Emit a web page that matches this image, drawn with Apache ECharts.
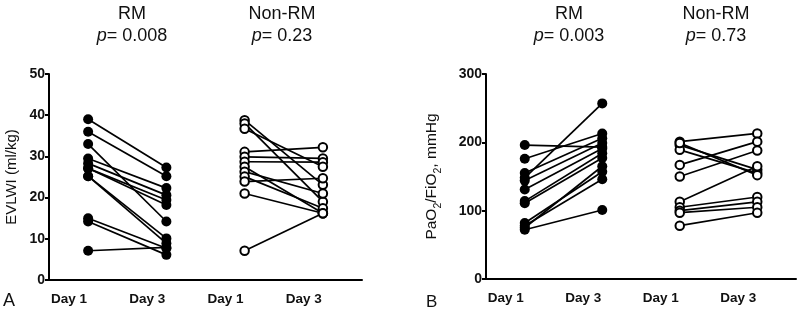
<!DOCTYPE html>
<html>
<head>
<meta charset="utf-8">
<script src="https://cdn.jsdelivr.net/npm/echarts@6/dist/echarts.min.js"></script>
<style>html,body{margin:0;padding:0;background:#fff}#c{width:800px;height:313px}</style>
</head>
<body>
<div id="c"></div>
<script>
// Categories (x-axis tick labels)
const xLabels = ['Day 1', 'Day 3', 'Day 1', 'Day 3'];
const evlwiTicks = [0, 10, 20, 30, 40, 50];
const pfTicks = [0, 100, 200, 300];

// Panel A: EVLWI (ml/kg), one entry per patient
const evlwiRmDay1 = [39, 36, 33, 29.5, 28.3, 27.1, 27.1, 25.2, 25.2, 15, 14.2, 7.1];
const evlwiRmDay3 = [27.3, 25.2, 14.2, 22.3, 20.6, 19.4, 18.2, 10.1, 8.9, 7.7, 6.1, 7.9];
const evlwiNonDay1 = [38.8, 38, 31.1, 29.9, 28.7, 27.5, 26.3, 25.1, 23.9, 21, 7.1, 36.7];
const evlwiNonDay3 = [23.1, 19, 32.2, 29.5, 28.6, 16.2, 21, 17.4, 24.7, 16.2, 16.2, 27.5];

// Panel B: PaO2/FiO2 (mmHg), one entry per patient
const pfRmDay1 = [196, 176, 155, 148, 144, 131, 114, 111, 82, 78, 72, 75];
const pfRmDay3 = [193, 213, 206, 257, 199, 191, 184, 177, 157, 146, 101, 165];
const pfNonDay1 = [201, 196, 189, 167, 150, 113, 105, 100, 97, 78, 199];
const pfNonDay3 = [213, 160, 155, 201, 188, 165, 120, 113, 105, 97, 152];

const chart = echarts.init(document.getElementById('c'), null, {renderer: 'canvas'});
const font = '"Liberation Sans", Arial, sans-serif';
const txt = '#111';

function pairSeries(d1, d3, xi, grid, filled) {
  return d1.map((v, i) => ({
    type: 'line',
    xAxisIndex: grid, yAxisIndex: grid,
    data: [[xi, v], [xi + 1, d3[i]]],
    symbol: 'circle',
    symbolSize: filled ? 10 : 8.5,
    showSymbol: true,
    lineStyle: {color: '#000', width: 1.7},
    itemStyle: filled ? {color: '#000', borderColor: '#000', borderWidth: 0}
                      : {color: '#fff', borderColor: '#000', borderWidth: 2},
    emphasis: {disabled: true},
    silent: true,
    animation: false
  }));
}

function xAxis(grid) {
  return {
    type: 'category', gridIndex: grid, data: xLabels,
    boundaryGap: true,
    axisLine: {lineStyle: {color: '#000', width: 2}},
    axisTick: {alignWithLabel: true, length: 5, lineStyle: {color: '#000', width: 2}},
    axisLabel: {color: txt, fontFamily: font, fontSize: 13.5, fontWeight: 'bold', margin: 12, align: 'right', padding: [0, 1, 0, 0]},
    splitLine: {show: false}
  };
}

function yAxis(grid, ticks, name, gap, fs, nameRich) {
  return {
    type: 'value', gridIndex: grid,
    min: ticks[0], max: ticks[ticks.length - 1],
    interval: ticks[1] - ticks[0],
    axisLine: {show: true, lineStyle: {color: '#000', width: 2}},
    axisTick: {show: true, length: 4, lineStyle: {color: '#000', width: 2}},
    axisLabel: {color: txt, fontFamily: font, fontSize: 14, fontWeight: 'bold', margin: 4},
    splitLine: {show: false},
    name: name, nameLocation: 'middle', nameGap: gap,
    nameTextStyle: {color: txt, fontFamily: font, fontSize: fs, rich: nameRich}
  };
}

const subRich = {
  n: {fontFamily: font, fontSize: 15.5, color: txt},
  s: {fontFamily: font, fontSize: 10.5, color: txt, verticalAlign: 'bottom', padding: [0, 0, -4, 0]}
};

function header(x, title, pval) {
  return [
    {type: 'text', x: x, y: 5, style: {text: title, fill: txt, font: '18px ' + font, textAlign: 'center', textVerticalAlign: 'top'}},
    {type: 'text', x: x, y: 27, style: {
      text: '{i|p}{r|= ' + pval + '}',
      rich: {i: {fontStyle: 'italic', fontFamily: font, fontSize: 18, fill: txt},
             r: {fontFamily: font, fontSize: 18, fill: txt}},
      fill: txt, font: '18px ' + font, textAlign: 'center', textVerticalAlign: 'top'}}
  ];
}

const series = [].concat(
  pairSeries(evlwiRmDay1, evlwiRmDay3, 0, 0, true),
  pairSeries(evlwiNonDay1, evlwiNonDay3, 2, 0, false),
  pairSeries(pfRmDay1, pfRmDay3, 0, 1, true),
  pairSeries(pfNonDay1, pfNonDay3, 2, 1, false)
);

chart.setOption({
  backgroundColor: '#fff',
  animation: false,
  grid: [
    {left: 49, top: 74, width: 313, height: 206},
    {left: 486, top: 74, width: 310, height: 205}
  ],
  xAxis: [xAxis(0), xAxis(1)],
  yAxis: [
    yAxis(0, evlwiTicks, 'EVLWI (ml/kg)', 30, 15),
    yAxis(1, pfTicks, '{n|PaO}{s|2}{n|/FiO}{s|2}{n|, mmHg}', 46, 15.5, subRich)
  ],
  graphic: [].concat(
    header(132, 'RM', '0.008'),
    header(282, 'Non-RM', '0.23'),
    header(569, 'RM', '0.003'),
    header(716, 'Non-RM', '0.73'),
    [
      {type: 'text', x: 3, y: 292, style: {text: 'A', fill: txt, font: '18px ' + font}},
      {type: 'text', x: 426, y: 294, style: {text: 'B', fill: txt, font: '17px ' + font}}
    ]
  ),
  series: series
});
</script>
</body>
</html>
